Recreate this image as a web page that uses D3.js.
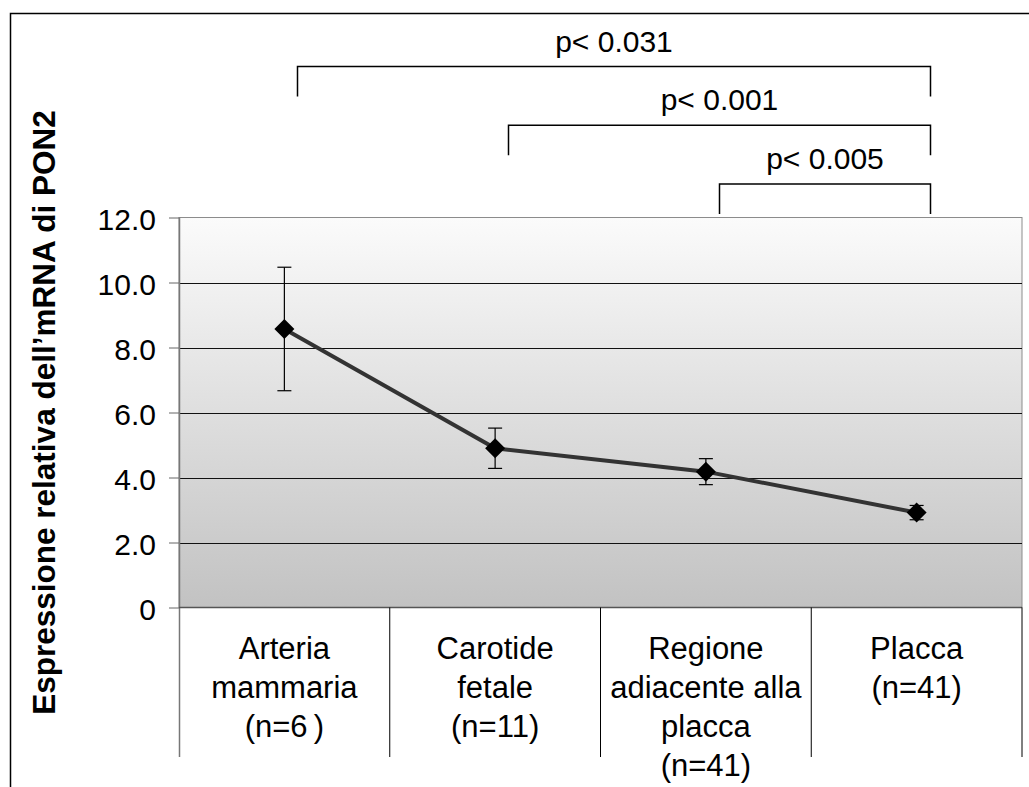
<!DOCTYPE html>
<html>
<head>
<meta charset="utf-8">
<script src="https://cdn.jsdelivr.net/npm/d3@7"></script>
<style>
  body { margin: 0; background: #fff; }
  svg { display: block; font-family: Arial, "Liberation Sans", sans-serif; }
</style>
</head>
<body>
<svg id="chart" width="1029" height="787"></svg>
<script>
// categories (multi-line labels) and series values
const categories = ["Arteria mammaria", "Carotide fetale", "Regione adiacente alla placca", "Placca"];
const categoryLines = [
    ["Arteria", "mammaria", "(n=6\u2009)"],
    ["Carotide", "fetale", "(n=11)"],
    ["Regione", "adiacente alla", "placca", "(n=41)"],
    ["Placca", "(n=41)"]
];
const means = [8.57, 4.90, 4.18, 2.92];
const errors = [1.90, 0.62, 0.40, 0.22];
const yTicks = [0, 2, 4, 6, 8, 10, 12];

// significance brackets
const bracketFrom = [0, 1, 2];
const bracketTo = [3, 3, 3];
const pLabels = ["p< 0.031", "p< 0.001", "p< 0.005"];

const svg = d3.select("#chart");
const W = 1029, H = 787;
const plot = { left: 179, right: 1022, top: 217.5, bottom: 607.5 };

// outer frame (right/bottom edges fall outside the picture)
svg.append("rect")
    .attr("x", 10.5).attr("y", 13.5)
    .attr("width", W + 20).attr("height", H + 20)
    .attr("fill", "none").attr("stroke", "#000").attr("stroke-width", 1.5);

const x = d3.scaleBand().domain(categories).range([plot.left, plot.right]);
const y = d3.scaleLinear().domain([0, 12]).range([plot.bottom, plot.top]);

// background gradient
const grad = svg.append("defs").append("linearGradient")
    .attr("id", "bg").attr("x1", 0).attr("y1", 0).attr("x2", 0).attr("y2", 1);
grad.append("stop").attr("offset", "0%").attr("stop-color", "#fbfbfb");
grad.append("stop").attr("offset", "100%").attr("stop-color", "#c2c2c2");

svg.append("rect")
    .attr("x", plot.left).attr("y", plot.top)
    .attr("width", plot.right - plot.left).attr("height", plot.bottom - plot.top)
    .attr("fill", "url(#bg)")
    .attr("stroke", "#8c8c8c").attr("stroke-width", 1);

// gridlines
svg.append("g")
    .selectAll("line")
    .data(yTicks.filter(d => d > 0 && d < 12))
    .join("line")
    .attr("x1", plot.left).attr("x2", plot.right)
    .attr("y1", d => Math.round(y(d)) + 0.5).attr("y2", d => Math.round(y(d)) + 0.5)
    .attr("stroke", "#111").attr("stroke-width", 1);

// y axis
const yAxis = svg.append("g")
    .attr("transform", `translate(${plot.left},0)`)
    .call(d3.axisLeft(y).tickValues(yTicks).tickSize(10).tickPadding(13)
        .tickFormat(d => d === 0 ? "0" : d3.format(".1f")(d)));
yAxis.select(".domain").remove();
yAxis.selectAll(".tick line").attr("stroke", "#666");
yAxis.selectAll(".tick text")
    .attr("font-size", 30).attr("fill", "#000")
    .attr("font-family", "Arial, 'Liberation Sans', sans-serif")
    .attr("dy", "0.4em");

// left axis line down through the category area
svg.append("line")
    .attr("x1", plot.left + 0.5).attr("x2", plot.left + 0.5)
    .attr("y1", plot.top).attr("y2", 757)
    .attr("stroke", "#777").attr("stroke-width", 1.5);

// bottom axis line
svg.append("line")
    .attr("x1", plot.left).attr("x2", plot.right)
    .attr("y1", plot.bottom).attr("y2", plot.bottom)
    .attr("stroke", "#555").attr("stroke-width", 1.5);

// category separators
svg.append("g")
    .selectAll("line")
    .data(categories)
    .join("line")
    .attr("x1", d => x(d) + x.bandwidth()).attr("x2", d => x(d) + x.bandwidth())
    .attr("y1", plot.bottom).attr("y2", 757)
    .attr("stroke", "#000").attr("stroke-width", 1);

// category labels
const catText = svg.append("g")
    .selectAll("text")
    .data(categories)
    .join("text")
    .attr("text-anchor", "middle")
    .attr("font-size", 31)
    .attr("fill", "#000");
catText.selectAll("tspan")
    .data((d, i) => categoryLines[i].map(line => ({ line, cat: d })))
    .join("tspan")
    .attr("x", d => x(d.cat) + x.bandwidth() / 2)
    .attr("y", (d, j) => 659 + j * 39)
    .text(d => d.line);

// y axis title
svg.append("text")
    .attr("transform", `translate(55,${(plot.top + plot.bottom) / 2}) rotate(-90)`)
    .attr("text-anchor", "middle")
    .attr("font-size", 31.5)
    .attr("font-weight", "bold")
    .attr("fill", "#000")
    .text("Espressione relativa dell\u2019mRNA di PON2");

// error bars
const cx = (d, i) => x(categories[i]) + x.bandwidth() / 2;
const err = svg.append("g").attr("stroke", "#000").attr("stroke-width", 1.2);
err.selectAll("line.v")
    .data(means)
    .join("line").attr("class", "v")
    .attr("x1", cx).attr("x2", cx)
    .attr("y1", (d, i) => y(d + errors[i])).attr("y2", (d, i) => y(d - errors[i]));
err.selectAll("line.top")
    .data(means)
    .join("line").attr("class", "top")
    .attr("x1", (d, i) => cx(d, i) - 7).attr("x2", (d, i) => cx(d, i) + 7)
    .attr("y1", (d, i) => y(d + errors[i])).attr("y2", (d, i) => y(d + errors[i]));
err.selectAll("line.bot")
    .data(means)
    .join("line").attr("class", "bot")
    .attr("x1", (d, i) => cx(d, i) - 7).attr("x2", (d, i) => cx(d, i) + 7)
    .attr("y1", (d, i) => y(d - errors[i])).attr("y2", (d, i) => y(d - errors[i]));

// series line
svg.append("path")
    .datum(means)
    .attr("fill", "none")
    .attr("stroke", "#333")
    .attr("stroke-width", 4)
    .attr("d", d3.line().x(cx).y(d => y(d)));

// diamond markers
svg.append("g")
    .selectAll("path")
    .data(means)
    .join("path")
    .attr("transform", (d, i) => `translate(${cx(d, i)},${y(d)})`)
    .attr("d", "M0,-10L10,0L0,10L-10,0Z")
    .attr("fill", "#000");

// significance brackets
const bracketTop = i => 66.5 + i * 58.8;
const bx = k => Math.round(x(categories[k]) + x.bandwidth() / 2 + 13) + 0.5;
const br = svg.append("g");
br.selectAll("path")
    .data(pLabels)
    .join("path")
    .attr("fill", "none").attr("stroke", "#000").attr("stroke-width", 1.5)
    .attr("d", (d, i) => {
        const t = bracketTop(i);
        return `M${bx(bracketFrom[i])},${t + 30}V${t}H${bx(bracketTo[i])}V${t + 30}`;
    });
br.selectAll("text")
    .data(pLabels)
    .join("text")
    .attr("x", (d, i) => (bx(bracketFrom[i]) + bx(bracketTo[i])) / 2)
    .attr("y", (d, i) => bracketTop(i) - 15)
    .attr("text-anchor", "middle")
    .attr("font-size", 30)
    .attr("fill", "#000")
    .text(d => d);
</script>
</body>
</html>
